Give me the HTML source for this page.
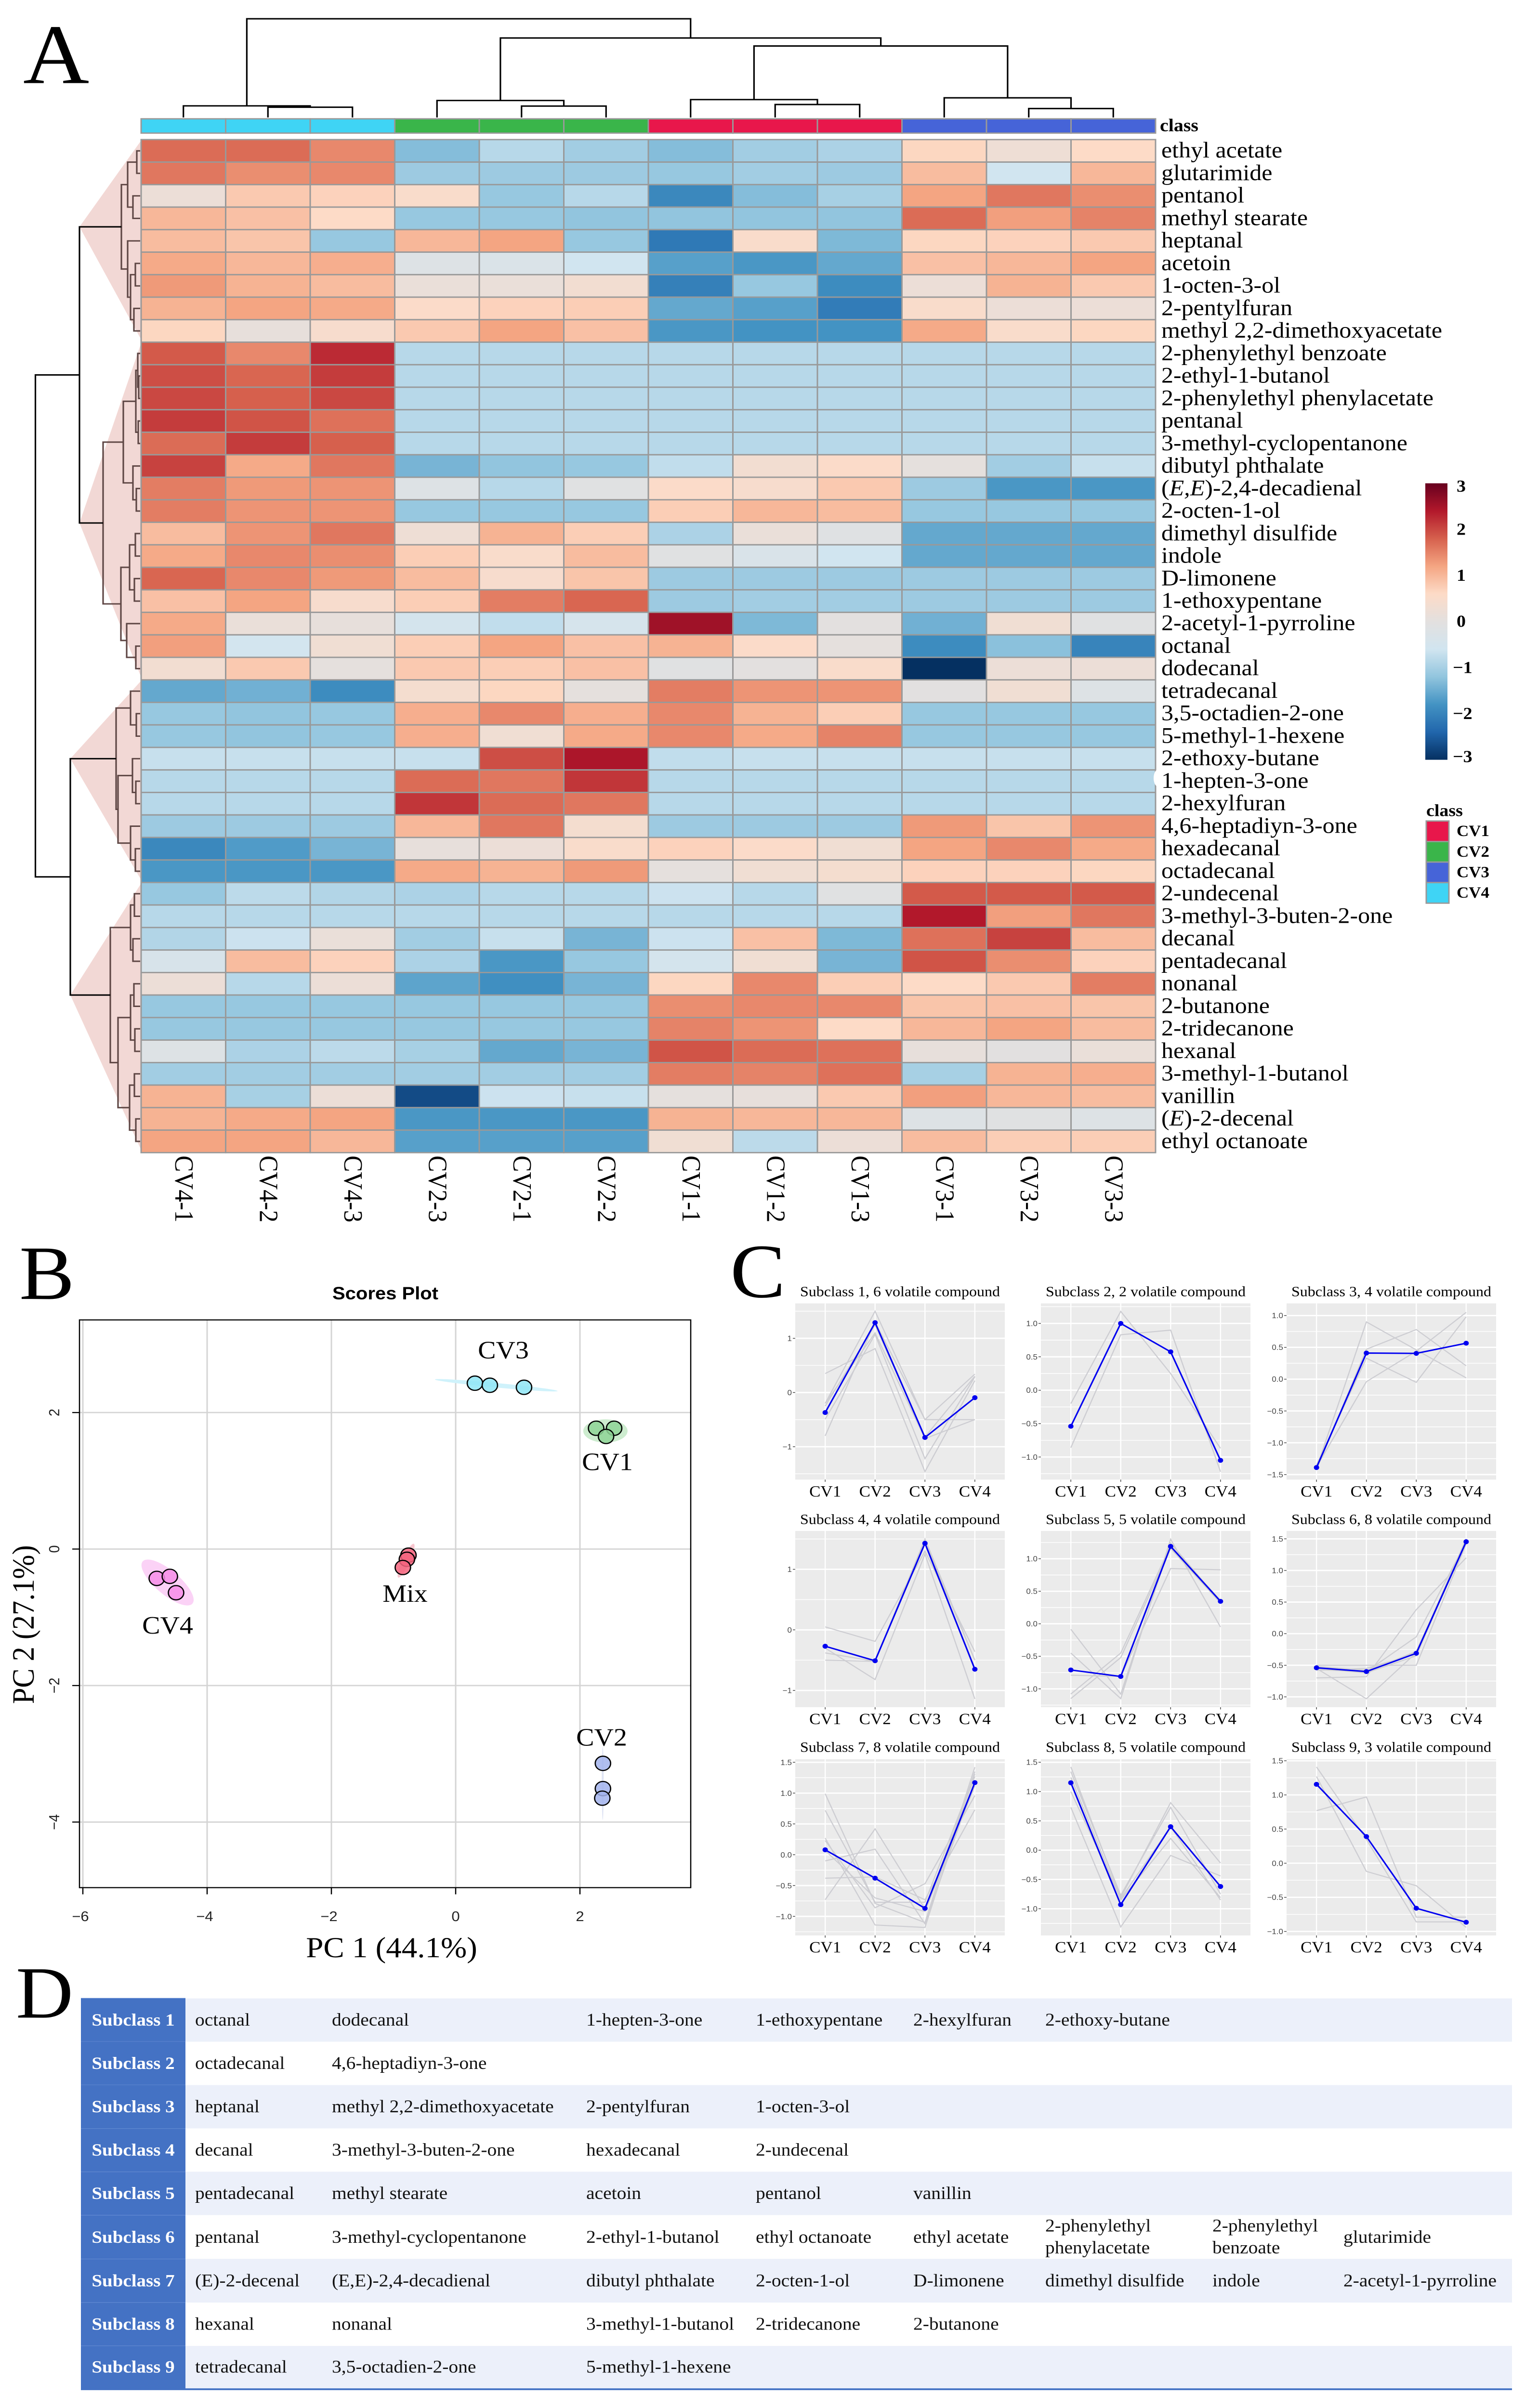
<!DOCTYPE html>
<html lang="en">
<head>
<meta charset="utf-8">
<title>Volatile compound heatmap, PCA, subclass trends</title>
<style>
html,body{margin:0;padding:0;background:#fff;width:3166px;height:100%;overflow:hidden;}
#page{position:relative;width:3166px;height:100%;overflow:hidden;background:#fff;font-family:"Liberation Serif",serif;}
#fig{position:absolute;left:0;top:0;display:block;width:3166px;height:100%;}
#subclass-table{width:2971px;border-collapse:collapse;table-layout:fixed;font-family:"Liberation Serif",serif;font-size:39.5px;line-height:49px;color:#111;border-bottom:4px solid #4472c4;}
#subclass-table tr{height:97.2px;}
#subclass-table td{padding:0 0 0 20px;vertical-align:middle;white-space:nowrap;overflow:visible;}
#subclass-table th{background:#4472c4;color:#fff;font-weight:bold;font-size:39px;text-align:center;padding:0;border-top:1px solid #5f88d2;}
#subclass-table tr.band td{background:#ecf0fa;}
</style>
</head>
<body>
<div id="page">
<svg id="fig" viewBox="0 0 3166 5391" preserveAspectRatio="none" xmlns="http://www.w3.org/2000/svg" font-family="'Liberation Serif',serif">
  <defs><linearGradient id="cbgrad" x1="0" y1="1" x2="0" y2="0"></linearGradient></defs>
  <text x="48" y="186" font-size="190" fill="#000">A</text>
  <text x="40" y="2908" font-size="172" fill="#000">B</text>
  <text x="1516" y="2904" font-size="172" fill="#000">C</text>
  <text x="33" y="4517" font-size="165" fill="#000">D</text>

  <g id="left-dendro"></g>
  <g id="top-dendro"></g>
  <g id="anno"></g>
  <g id="heat"></g>
  <ellipse cx="2404" cy="1742" rx="9" ry="19" fill="#fff"></ellipse>
  <g id="rowlabels"></g>
  <g id="collabels"></g>
  <text x="2408" y="294" font-size="40" font-weight="bold" fill="#000">class</text>
  <g id="colorbar"></g>
  <g id="classlegend"></g>

  <g id="pca"></g>
  <text x="800" y="2909" font-family="'Liberation Sans',sans-serif" font-size="40" font-weight="bold" text-anchor="middle">Scores Plot</text>
  <text x="813" y="4382" font-size="65" text-anchor="middle">PC 1 (44.1%)</text>
  <text transform="translate(70,3637) rotate(-90)" font-size="65" text-anchor="middle">PC 2 (27.1%)</text>

  <g id="trends"></g>

  <foreignObject x="168" y="4473" width="2971" height="890">
<table id="subclass-table">
<colgroup><col style="width:217px"><col style="width:284px"><col style="width:528px"><col style="width:352px"><col style="width:327px"><col style="width:274px"><col style="width:347px"><col style="width:272px"><col style="width:370px"></colgroup>
<tr class="band"><th>Subclass 1</th><td>octanal</td><td>dodecanal</td><td>1-hepten-3-one</td><td>1-ethoxypentane</td><td>2-hexylfuran</td><td>2-ethoxy-butane</td><td></td><td></td></tr>
<tr><th>Subclass 2</th><td>octadecanal</td><td>4,6-heptadiyn-3-one</td><td></td><td></td><td></td><td></td><td></td><td></td></tr>
<tr class="band"><th>Subclass 3</th><td>heptanal</td><td>methyl 2,2-dimethoxyacetate</td><td>2-pentylfuran</td><td>1-octen-3-ol</td><td></td><td></td><td></td><td></td></tr>
<tr><th>Subclass 4</th><td>decanal</td><td>3-methyl-3-buten-2-one</td><td>hexadecanal</td><td>2-undecenal</td><td></td><td></td><td></td><td></td></tr>
<tr class="band"><th>Subclass 5</th><td>pentadecanal</td><td>methyl stearate</td><td>acetoin</td><td>pentanol</td><td>vanillin</td><td></td><td></td><td></td></tr>
<tr><th>Subclass 6</th><td>pentanal</td><td>3-methyl-cyclopentanone</td><td>2-ethyl-1-butanol</td><td>ethyl octanoate</td><td>ethyl acetate</td><td>2-phenylethyl<br>phenylacetate</td><td>2-phenylethyl<br>benzoate</td><td>glutarimide</td></tr>
<tr class="band"><th>Subclass 7</th><td>(E)-2-decenal</td><td>(E,E)-2,4-decadienal</td><td>dibutyl phthalate</td><td>2-octen-1-ol</td><td>D-limonene</td><td>dimethyl disulfide</td><td>indole</td><td>2-acetyl-1-pyrroline</td></tr>
<tr><th>Subclass 8</th><td>hexanal</td><td>nonanal</td><td>3-methyl-1-butanol</td><td>2-tridecanone</td><td>2-butanone</td><td></td><td></td><td></td></tr>
<tr class="band"><th>Subclass 9</th><td>tetradecanal</td><td>3,5-octadien-2-one</td><td>5-methyl-1-hexene</td><td></td><td></td><td></td><td></td><td></td></tr>
</table>
  </foreignObject>
</svg>
</div>

<script>
/* ---------- heatmap data ---------- */
const sampleLabels = ["CV4-1","CV4-2","CV4-3","CV2-3","CV2-1","CV2-2","CV1-1","CV1-2","CV1-3","CV3-1","CV3-2","CV3-3"];
const sampleClasses = ["CV4","CV4","CV4","CV2","CV2","CV2","CV1","CV1","CV1","CV3","CV3","CV3"];
const classNames = ["CV1","CV2","CV3","CV4"];
const compoundLabels = ["ethyl acetate","glutarimide","pentanol","methyl stearate","heptanal","acetoin","1-octen-3-ol","2-pentylfuran","methyl 2,2-dimethoxyacetate","2-phenylethyl benzoate","2-ethyl-1-butanol","2-phenylethyl phenylacetate","pentanal","3-methyl-cyclopentanone","dibutyl phthalate","(E,E)-2,4-decadienal","2-octen-1-ol","dimethyl disulfide","indole","D-limonene","1-ethoxypentane","2-acetyl-1-pyrroline","octanal","dodecanal","tetradecanal","3,5-octadien-2-one","5-methyl-1-hexene","2-ethoxy-butane","1-hepten-3-one","2-hexylfuran","4,6-heptadiyn-3-one","hexadecanal","octadecanal","2-undecenal","3-methyl-3-buten-2-one","decanal","pentadecanal","nonanal","2-butanone","2-tridecanone","hexanal","3-methyl-1-butanol","vanillin","(E)-2-decenal","ethyl octanoate"];
const heatValues = [
[1.7,1.7,1.45,-1.3,-.85,-1.05,-1.3,-1.05,-.95,.65,.25,.6],
[1.6,1.4,1.45,-1.1,-1.1,-1.1,-1.15,-1.05,-1.1,.95,-.6,1.0],
[.2,.8,.7,.5,-1.15,-.85,-1.95,-1.3,-1.0,1.2,1.6,1.4],
[1.0,.9,.6,-1.15,-1.15,-1.2,-1.2,-1.2,-1.2,1.7,1.25,1.5],
[.95,.85,-1.15,1.0,1.2,-1.15,-2.15,.5,-1.35,.65,.7,.8],
[1.15,1.0,1.1,-.2,-.3,-.6,-1.65,-1.75,-1.55,.9,1.0,1.2],
[1.3,1.05,.95,.15,.15,.35,-2.05,-1.15,-1.9,.2,1.05,.8],
[1.05,1.2,1.15,.55,.7,.75,-1.55,-1.65,-2.1,.5,.2,.2],
[.65,.1,.45,.8,1.2,.9,-1.75,-1.8,-1.8,1.15,.5,.65],
[1.85,1.45,2.25,-.85,-.85,-.85,-.85,-.85,-.85,-.85,-.85,-.85],
[1.95,1.75,2.1,-.85,-.85,-.85,-.85,-.85,-.85,-.85,-.85,-.85],
[2.0,1.8,2.0,-.85,-.85,-.85,-.85,-.85,-.85,-.85,-.85,-.85],
[2.1,1.9,1.65,-.85,-.85,-.85,-.85,-.85,-.85,-.85,-.85,-.85],
[1.7,2.1,1.8,-.85,-.85,-.85,-.85,-.85,-.85,-.85,-.85,-.85],
[2.05,1.15,1.6,-1.4,-1.2,-1.15,-.75,.35,.55,.05,-1.05,-.7],
[1.55,1.3,1.35,-.2,-.85,-.1,.55,.45,.8,-1.1,-1.75,-1.75],
[1.55,1.35,1.35,-1.15,-1.15,-1.15,.75,1.0,.95,-1.15,-1.15,-1.15],
[.95,1.35,1.6,.25,1.05,.75,-.95,.15,-.15,-1.55,-1.55,-1.55],
[1.15,1.45,1.4,.75,.5,.95,-.1,-.35,-.6,-1.55,-1.55,-1.55],
[1.75,1.45,1.3,.95,.45,.85,-1.1,-1.1,-1.1,-1.1,-1.1,-1.1],
[.9,1.2,.45,.75,1.55,1.75,-1.1,-1.05,-1.05,-1.1,-1.1,-1.1],
[1.15,.15,.1,-.5,-.75,-.45,2.55,-1.35,0,-1.45,.3,-.1],
[1.25,-.55,.3,.75,1.2,.9,1.05,.55,.05,-1.9,-1.25,-2.0],
[.35,.8,.05,.8,.75,.9,-.1,0,.5,-3,.2,.2],
[-1.55,-1.45,-1.9,.4,.65,.05,1.55,1.35,1.35,-.05,.3,-.2],
[-1.15,-1.2,-1.15,1.1,1.45,1.1,1.45,1.05,.75,-1.15,-1.15,-1.15],
[-1.15,-1.2,-1.15,1.1,.3,1.15,1.45,1.15,1.5,-1.15,-1.15,-1.15],
[-.7,-.7,-.7,-.7,1.95,2.45,-.75,-.7,-.7,-.7,-.7,-.7],
[-.85,-.85,-.85,1.7,1.6,2.15,-.85,-.85,-.85,-.85,-.85,-.85],
[-.85,-.85,-.85,2.15,1.7,1.6,-.85,-.85,-.85,-.85,-.85,-.85],
[-1.1,-1.1,-1.1,1.0,1.6,.4,-1.1,-1.1,-1.1,1.3,.85,1.35],
[-1.95,-1.7,-1.4,.1,.2,.5,.7,.55,.3,1.2,1.45,1.15],
[-1.75,-1.75,-1.75,1.15,1.05,1.3,.05,.3,.4,.7,.7,.65],
[-1.15,-.8,-.9,-.95,-.85,-.85,-.65,-.85,-.1,1.85,1.85,1.85],
[-.85,-.85,-.85,-.85,-.85,-.85,-.85,-.85,-.85,2.4,1.25,1.6],
[-.9,-.65,.15,-1.05,-.7,-1.4,-.65,.9,-1.35,1.65,2.05,.95],
[-.4,.95,.7,-.95,-1.75,-1.15,-.5,.3,-1.4,1.9,1.4,.7],
[.2,-.85,.2,-1.6,-1.85,-1.4,.65,1.45,.75,.6,.8,1.55],
[-1.15,-1.15,-1.15,-1.15,-1.15,-1.15,1.4,1.45,1.45,.85,.9,.85],
[-1.15,-1.15,-1.15,-1.15,-1.15,-1.15,1.5,1.35,.6,1.0,1.2,.95],
[-.2,-.95,-.8,-1.0,-1.55,-1.4,1.9,1.7,1.65,.1,-.05,.15],
[-1.05,-1.05,-1.05,-1.05,-1.05,-1.05,1.55,1.5,1.65,-1.0,1.05,1.1],
[1.05,-1.0,.2,-2.7,-.65,-.7,.05,.1,.8,1.25,1.0,.95],
[1.05,1.15,1.2,-1.75,-1.75,-1.75,1.05,1.0,1.0,-.2,-.1,-.2],
[1.2,1.2,1.0,-1.65,-1.65,-1.65,.3,-.8,.2,.95,.75,.75]
];
const colorTicks = [3,2,1,0,-1,-2,-3];
/* dendrograms: [distance, childA, childB]; leaves are row or column indices */
const rowCluster1 = [3.9,[2.6,[.7,0,1],[1.5,2,3]],[2.6,4,[2.0,[1.0,5,6],[1.3,7,8]]]];
const rowCluster2 = [7.7,[3.5,[.9,[.5,9,[.3,10,11]],[.4,12,13]],[1.5,14,[.8,15,16]]],[4.0,[2.2,[1.0,17,18],[1.2,19,20]],[2.8,21,[.9,22,23]]]];
const rowCluster3 = [5.0,[2.0,24,[.8,25,26]],[4.6,[1.6,27,[.9,28,29]],[2.0,30,[1.0,31,32]]]];
const rowCluster4 = [6.2,[2.0,[1.2,33,34],[1.5,35,36]],[4.6,[2.0,[1.3,37,38],[1.1,39,40]],[2.2,[1.2,41,42],[.9,43,44]]]];
const rowTree = [21.75,[12.6,rowCluster1,rowCluster2],[14.5,rowCluster3,rowCluster4]];
const colTree = [22.1,[2.6,0,[2.3,1,2]],[17.8,[3.8,3,[2.55,4,5]],[16.0,[4.0,6,[2.9,7,8]],[4.4,9,[2.0,10,11]]]]];

/* ---------- PCA data ---------- */
const pcaGroups = ["CV3","CV1","CV4","Mix","CV2"];
const pcaXValues = [[.31,.55,1.10],[2.26,2.55,2.42],[-4.81,-4.60,-4.50],[-.76,-.785,-.85],[2.37,2.37,2.36]];
const pcaYValues = [[2.43,2.40,2.37],[1.77,1.77,1.65],[-.43,-.40,-.64],[-.09,-.15,-.27],[-3.14,-3.51,-3.65]];
const pcaXTicks = [-6,-4,-2,0,2];
const pcaYTicks = [2,0,-2,-4];

/* ---------- subclass trend data ---------- */
const trendCategories = ["CV1","CV2","CV3","CV4"];
const trendTitles = ["Subclass 1, 6 volatile compound","Subclass 2, 2 volatile compound","Subclass 3, 4 volatile compound","Subclass 4, 4 volatile compound","Subclass 5, 5 volatile compound","Subclass 6, 8 volatile compound","Subclass 7, 8 volatile compound","Subclass 8, 5 volatile compound","Subclass 9, 3 volatile compound"];
const trendMeans = [[-.37,1.29,-.83,-.095],[-.54,1.0,.575,-1.05],[-1.39,.41,.405,.565],[-.27,-.51,1.43,-.65],[-.71,-.81,1.19,.345],[-.54,-.60,-.31,1.455],[.08,-.38,-.87,1.17],[1.15,-.93,.40,-.62],[1.155,.39,-.66,-.865]];
const trendLines1 = [[-.2,1.5,-.5,.34],[.35,.81,-1.46,.22],[-.8,1.3,-.5,-.5],[-.49,1.07,-1.22,.29],[-.25,1.25,-.82,.3],[-.2,1.1,-.85,-.5]];
const trendLines2 = [[-.2,1.18,.25,-.87],[-.86,.83,.9,-1.22]];
const trendLines3 = [[-1.4,.9,.46,.02],[-1.35,.33,-.05,.98],[-1.42,.47,.78,.21],[-1.38,-.04,.44,1.05]];
const trendLines4 = [[.05,-.19,1.3,-.36],[-.38,-.52,1.5,-.5],[-.5,-.52,1.45,-.5],[-.3,-.82,1.25,-1.14]];
const trendLines5 = [[-.085,-1.08,1.24,.34],[-.45,-1.15,1.3,-.05],[-.79,-.81,.85,.83],[-1.08,-.45,1.2,.36],[-1.15,-.52,1.16,.32]];
const trendLines6 = [[-.5,-.5,-.5,1.42],[-.7,-.68,.38,1.2],[-.55,-1.03,-.3,1.5],[-.57,-.6,-.05,1.45],[-.55,-.62,-.35,1.48],[-.52,-.58,-.3,1.46],[-.58,-.55,-.32,1.47],[-.53,-.6,-.28,1.44]];
const trendLines7 = [[.99,-.79,-1.1,1.42],[.72,-.77,-.77,1.31],[.27,-1.14,-1.18,1.35],[.23,-.86,-.47,.96],[-.1,.09,-1.12,1.2],[-.38,-.36,-.73,.73],[-.73,.42,-.88,1.27],[.07,-.7,-.92,1.12]];
const trendLines8 = [[1.42,-.81,.81,-.22],[1.34,-.77,.73,-.75],[1.24,-.85,.2,-.81],[1.0,-.83,.4,-.85],[.73,-1.31,-.09,-.44]];
const trendLines9 = [[.77,.97,-.79,-.79],[1.41,.35,-.86,-.86],[1.27,-.12,-.33,-.94]];
const trendLineSets = [trendLines1,trendLines2,trendLines3,trendLines4,trendLines5,trendLines6,trendLines7,trendLines8,trendLines9];
const trendTicks = [[-1,0,1],[-1,-.5,0,.5,1],[-1.5,-1,-.5,0,.5,1],[-1,0,1],[-1,-.5,0,.5,1],[-1,-.5,0,.5,1,1.5],[-1,-.5,0,.5,1,1.5],[-1,-.5,0,.5,1,1.5],[-1,-.5,0,.5,1,1.5]];
const trendDomains = [[-1.607,1.645],[-1.338,1.30],[-1.579,1.191],[-1.276,1.633],[-1.282,1.427],[-1.163,1.625],[-1.309,1.55],[-1.455,1.552],[-1.058,1.523]];

/* ---------- frame: fall back to the design height for unexpected viewports ---------- */
if(window.innerHeight < 4000 || window.innerHeight > 5391){
  document.documentElement.style.height = "5391px";
  document.body.style.height = "5391px";
}

/* ---------- layout and styles ---------- */
const NS = "http://www.w3.org/2000/svg";
function mk(tag, attrs, parent){
  const el = document.createElementNS(NS, tag);
  for(const k in attrs){ el.setAttribute(k, attrs[k]); }
  parent.appendChild(el);
  return el;
}
const byId = id => document.getElementById(id);
const scaleStops = [[3,"#67001f"],[2.4,"#b2182b"],[1.8,"#d6604d"],[1.2,"#f4a582"],[.6,"#fddbc7"],[0,"#e3e0df"],[-.6,"#d1e5f0"],[-1.2,"#92c5de"],[-1.8,"#4393c3"],[-2.4,"#2166ac"],[-3,"#053061"]];
function hex2rgb(h){ return [1,3,5].map(i=>parseInt(h.substr(i,2),16)); }
function colorFor(v){
  const x = Math.max(-3,Math.min(3,v));
  for(let i=0;i<scaleStops.length-1;i++){
    const a = scaleStops[i], b = scaleStops[i+1];
    if(x<=a[0] && x>=b[0]){
      const t = (a[0]-x)/(a[0]-b[0]);
      const ca = hex2rgb(a[1]), cb = hex2rgb(b[1]);
      return "rgb("+ca.map((c,j)=>Math.round(c+(cb[j]-c)*t)).join(",")+")";
    }
  }
  return "#e3e0df";
}
const classColor = {CV1:"#e8174b",CV2:"#3ab54a",CV3:"#4664d8",CV4:"#3fd4f5"};
const heatLeft = 293, heatTop = 312.5, cellW = 175.5, cellH = 50.4;
const colCenter = i => heatLeft + cellW*(i+.5);
const rowCenter = r => heatTop + cellH*(r+.5);

/* heatmap cells */
const heatG = byId("heat");
heatValues.forEach((row,r)=>{
  row.forEach((v,c)=>{
    const cell = mk("rect",{x:heatLeft+c*cellW,y:heatTop+r*cellH,width:cellW,height:cellH,fill:colorFor(v),stroke:"#999",'stroke-width':3},heatG);
    
    
  });
});
/* row labels */
const rowG = byId("rowlabels");
compoundLabels.forEach((name,r)=>{
  const t = mk("text",{x:2411,y:rowCenter(r)+15,'font-size':50,fill:"#000"},rowG);
  t.innerHTML = name.replace(/^\((E(?:,E)?)\)/,'(<tspan font-style="italic">$1</tspan>)');
  
  
});
/* column labels */
const colG = byId("collabels");
sampleLabels.forEach((name,c)=>{
  const t = mk("text",{transform:"translate("+(colCenter(c)-17)+",2587) rotate(90)",'font-size':55,fill:"#000"},colG);
  t.textContent = name;
  
  
});
/* annotation bar */
const annoG = byId("anno");
sampleClasses.forEach((k,c)=>{
  const a = mk("rect",{x:heatLeft+c*cellW,y:266,width:cellW,height:32,fill:classColor[k],stroke:"#999",'stroke-width':3},annoG);
  
  
});

/* dendrograms */
const distX = d => heatLeft - 2 - d*10;
const distY = d => 263 - d*10;
function isNode(n){ return Array.isArray(n); }
const rowLeafAxis = r => rowCenter(r);
const colLeafAxis = c => colCenter(c);
function drawRowTree(n,g){
  if(!isNode(n)) return {pos:rowLeafAxis(n),d:0};
  const a = drawRowTree(n[1],g), b = drawRowTree(n[2],g);
  const x = distX(n[0]);
  const col = n[0]>=10 ? "#000" : "#5e4644";
  const p = mk("path",{d:"M"+distX(a.d)+" "+a.pos+"H"+x+"V"+b.pos+"H"+distX(b.d),fill:"none",stroke:col,'stroke-width':3.2},g);
  
  
  return {pos:(a.pos+b.pos)/2,d:n[0]};
}
function drawColTree(n,g){
  if(!isNode(n)) return {pos:colLeafAxis(n),d:0};
  const a = drawColTree(n[1],g), b = drawColTree(n[2],g);
  const y = distY(n[0]);
  const p = mk("path",{d:"M"+a.pos+" "+distY(a.d)+"V"+y+"H"+b.pos+"V"+distY(b.d),fill:"none",stroke:"#000",'stroke-width':3.2},g);
  
  
  return {pos:(a.pos+b.pos)/2,d:n[0]};
}
const leftG = byId("left-dendro");
function treeCenter(n){ return isNode(n) ? (treeCenter(n[1])+treeCenter(n[2]))/2 : rowLeafAxis(n); }
function treeLeaves(n){ return isNode(n) ? treeLeaves(n[1]).concat(treeLeaves(n[2])) : [n]; }
[[rowTree[1],rowCluster1],[rowTree[1],rowCluster2],[rowTree[2],rowCluster3],[rowTree[2],rowCluster4]].forEach(pair=>{
  const leaves = treeLeaves(pair[1]);
  const apexX = distX(pair[0][0]);
  const top = heatTop + cellH*Math.min.apply(null,leaves);
  const bot = heatTop + cellH*(Math.max.apply(null,leaves)+1);
  const tri = mk("polygon",{points:apexX+","+treeCenter(pair[1])+" "+heatLeft+","+(top+2)+" "+heatLeft+","+(bot-6),fill:"#f2d8d5"},leftG);
  
  
});
drawRowTree(rowTree,leftG);
drawColTree(colTree,byId("top-dendro"));

/* color scale */
const grad = byId("cbgrad");
scaleStops.slice().reverse().forEach(s=>{
  mk("stop",{offset:((s[0]+3)/6*100)+"%",'stop-color':s[1]},grad);
});
const cbG = byId("colorbar");
const cbTop = 1082, cbBot = 1701;
const cbY = v => cbBot - (v+3)/6*(cbBot-cbTop);
const cbRect = mk("rect",{x:2959,y:cbTop,width:46,height:cbBot-cbTop,fill:"url(#cbgrad)"},cbG);


colorTicks.forEach(v=>{
  const t = mk("text",{x:3020,y:cbY(v)+ (v===3?19:v===-3?5:12),'font-size':38,'font-weight':'bold',fill:"#000"},cbG);
  t.textContent = (v<0?"\u2212":" ")+Math.abs(v);
  t.setAttribute('x', v<0 ? 3016 : 3024);
  
  
});
/* class legend */
const legG = byId("classlegend");
const legT = mk("text",{x:2961,y:1827,'font-size':38,'font-weight':'bold',fill:"#000"},legG);
legT.textContent = "class";


classNames.forEach((k,i)=>{
  const r = mk("rect",{x:2961,y:1838+i*46,width:47,height:46,fill:classColor[k],stroke:"#999",'stroke-width':3},legG);
  
  
  const t = mk("text",{x:3024,y:1872+i*46,'font-size':35,'font-weight':'bold',fill:"#000"},legG);
  t.textContent = k;
  
  
});

/* PCA */
const pcaG = byId("pca");
const pcaBox = {l:165,r:1434,t:2955,b:4226};
const pcaX = v => 946 + v*129;
const pcaY = v => 3468 - v*152.8;
pcaXTicks.forEach(v=>{
  const g = mk("line",{x1:pcaX(v),x2:pcaX(v),y1:pcaBox.t,y2:pcaBox.b,stroke:"#d4d4d4",'stroke-width':3},pcaG);
  
  
  const k = mk("line",{x1:pcaX(v),x2:pcaX(v),y1:pcaBox.b,y2:pcaBox.b+15,stroke:"#000",'stroke-width':2.5},pcaG);
  
  
  const t = mk("text",{x:pcaX(v)-(v<0?5:0),y:4301,'font-size':31,'text-anchor':'middle','font-family':"'Liberation Sans',sans-serif",fill:"#222"},pcaG);
  t.textContent = (v<0?"\u2212":"")+Math.abs(v);
  
  
});
pcaYTicks.forEach(v=>{
  const g = mk("line",{x1:pcaBox.l,x2:pcaBox.r,y1:pcaY(v),y2:pcaY(v),stroke:"#d4d4d4",'stroke-width':3},pcaG);
  
  
  const k = mk("line",{x1:pcaBox.l-15,x2:pcaBox.l,y1:pcaY(v),y2:pcaY(v),stroke:"#000",'stroke-width':2.5},pcaG);
  
  
  const t = mk("text",{transform:"translate(123,"+pcaY(v)+") rotate(-90)",'font-size':31,'text-anchor':'middle','font-family':"'Liberation Sans',sans-serif",fill:"#222"},pcaG);
  t.textContent = (v<0?"\u2212":"")+Math.abs(v);
  
  
});
const pcaBorder = mk("rect",{x:pcaBox.l,y:pcaBox.t,width:pcaBox.r-pcaBox.l,height:pcaBox.b-pcaBox.t,fill:"none",stroke:"#000",'stroke-width':2.5},pcaG);


const pcaFill = {CV3:"#8fe6f6",CV1:"#8ed596",CV4:"#f68ee8",Mix:"#f5647e",CV2:"#a2b3ec"};
const pcaHalo = {CV3:"#cff2fb",CV1:"#cdeccf",CV4:"#fbd2f6",Mix:"#f8c6cf",CV2:"#dfe4f4"};
const pcaShape = {CV3:[128,5,5.8],CV1:[46,26,0],CV4:[70,26,43],Mix:[41,8,113],CV2:[82,2,90]};
const pcaLabelPos = {CV3:[1045,3041],CV1:[1261,3291],CV4:[348,3657],Mix:[841,3586],CV2:[1249,3908]};
const mean = a => a.reduce((s,v)=>s+v,0)/a.length;
pcaGroups.forEach((k,g)=>{
  const cx = pcaX(mean(pcaXValues[g])), cy = pcaY(mean(pcaYValues[g]));
  const sh = pcaShape[k];
  const e = mk("ellipse",{cx:cx,cy:cy,rx:sh[0],ry:sh[1],fill:pcaHalo[k],transform:"rotate("+sh[2]+" "+cx+" "+cy+")"},pcaG);
  
  
  pcaXValues[g].forEach((xv,i)=>{
    const c = mk("circle",{cx:pcaX(xv),cy:pcaY(pcaYValues[g][i]),r:16,fill:pcaFill[k],'fill-opacity':.85,stroke:"#000",'stroke-width':2.6},pcaG);
    
    
  });
  const t = mk("text",{x:pcaLabelPos[k][0],y:pcaLabelPos[k][1],'font-size':56,'text-anchor':'middle',fill:"#000"},pcaG);
  t.textContent = k;
  
  
});

/* subclass trend panels */
const trG = byId("trends");
const colLefts = [1651,2161,2671];
const rowTops = [2918,3427.5,3938.5];
const panelW = 435, panelH = 394.5;
const titleOffset = [-26,-25.5,-26.5];
trendTitles.forEach((title,i)=>{
  const px = colLefts[i%3], py = rowTops[Math.floor(i/3)];
  const dom = trendDomains[i], ticks = trendTicks[i];
  const yS = v => py + (dom[1]-v)/(dom[1]-dom[0])*panelH;
  const xS = c => px + (c+.6)/4.2*panelW;
  const g = mk("g",{},trG);
  
  
  const bg = mk("rect",{x:px,y:py,width:panelW,height:panelH,fill:"#ebebeb"},g);
  
  
  const step = ticks[1]-ticks[0];
  for(let k=-1;k<ticks.length;k++){
    const mv = ticks[0]+(k+.5)*step;
    if(mv>dom[0] && mv<dom[1]){
      const m = mk("line",{x1:px,x2:px+panelW,y1:yS(mv),y2:yS(mv),stroke:"#fff",'stroke-width':1.6},g);
      
      
    }
  }
  const integerTicks = ticks.every(Number.isInteger);
  ticks.forEach(v=>{
    const m = mk("line",{x1:px,x2:px+panelW,y1:yS(v),y2:yS(v),stroke:"#fff",'stroke-width':3},g);
    
    
    const k = mk("line",{x1:px-5,x2:px,y1:yS(v),y2:yS(v),stroke:"#444",'stroke-width':1.5},g);
    
    
    const t = mk("text",{x:px-7,y:yS(v)+6,'font-size':17,'text-anchor':'end','font-family':"'Liberation Sans',sans-serif",fill:"#444"},g);
    t.textContent = (v<0?"\u2212":"")+(integerTicks?Math.abs(v):Math.abs(v).toFixed(1));
    
    
  });
  trendCategories.forEach((cat,c)=>{
    const m = mk("line",{x1:xS(c),x2:xS(c),y1:py,y2:py+panelH,stroke:"#fff",'stroke-width':2.4},g);
    
    
    const k = mk("line",{x1:xS(c),x2:xS(c),y1:py+panelH,y2:py+panelH+5,stroke:"#444",'stroke-width':1.5},g);
    
    
    const t = mk("text",{x:xS(c),y:py+panelH+38,'font-size':35,'text-anchor':'middle',fill:"#000"},g);
    t.textContent = cat;
    
    
  });
  const pathOf = vals => vals.map((v,c)=>(c?"L":"M")+xS(c)+" "+yS(v)).join("");
  trendLineSets[i].forEach(vals=>{
    const p = mk("path",{d:pathOf(vals),fill:"none",stroke:"#cdcdd2",'stroke-width':2.4},g);
    
    
  });
  const mp = mk("path",{d:pathOf(trendMeans[i]),fill:"none",stroke:"#0000f0",'stroke-width':3.2},g);
  
  
  trendMeans[i].forEach((v,c)=>{
    const d = mk("circle",{cx:xS(c),cy:yS(v),r:5.5,fill:"#0000f0"},g);
    
    
  });
  const t = mk("text",{x:px+panelW/2,y:py+titleOffset[Math.floor(i/3)]+10,'font-size':32,'text-anchor':'middle',fill:"#000"},g);
  t.textContent = title;
  
  
});
</script>
</body>
</html>
